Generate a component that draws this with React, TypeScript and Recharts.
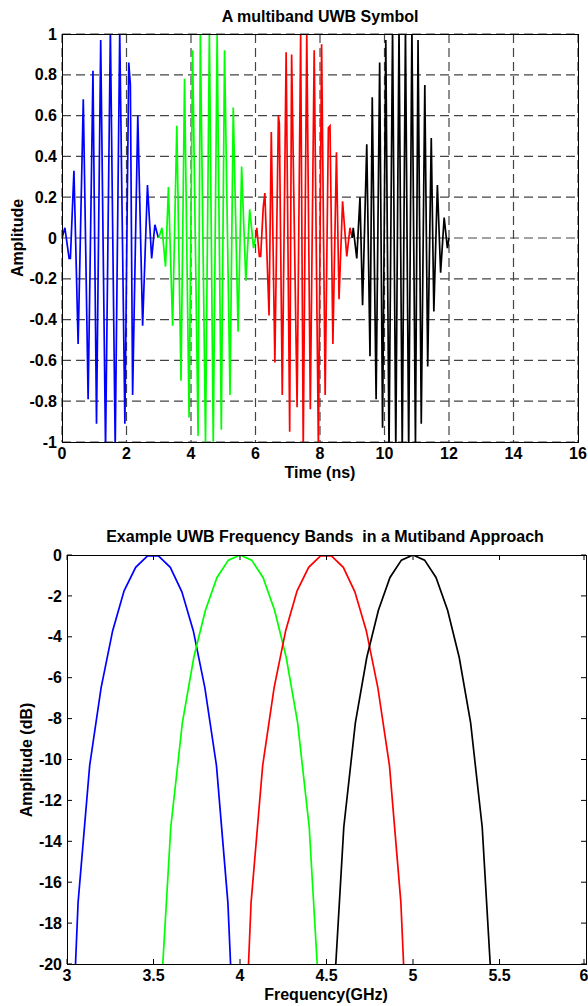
import { CartesianGrid, Line, LineChart, XAxis, YAxis } from "recharts";

// time axis (ns) and amplitude ticks
const timeTicks = [0, 2, 4, 6, 8, 10, 12, 14, 16];
const ampTicks = [-1, -0.8, -0.6, -0.4, -0.2, 0, 0.2, 0.4, 0.6, 0.8, 1];

// pulse 1 (blue)
const blueT = [0, 0.09, 0.22, 0.26, 0.37, 0.5, 0.66, 0.81, 0.96, 1.07, 1.2, 1.35, 1.5, 1.65, 1.79, 1.95, 2.07, 2.12, 2.19, 2.35, 2.5, 2.65, 2.78, 2.88, 2.99];
const blueV = [0, 0.05, -0.1, -0.1, 0.33, -0.52, 0.68, -0.79, 0.82, -0.91, 0.97, -1.03, 1.02, -1.03, 1.01, -0.91, 0.86, 0.75, -0.77, 0.6, -0.43, 0.26, -0.1, 0.065, 0];

// pulse 2 (green)
const greenT = [3.0, 3.1, 3.21, 3.3, 3.43, 3.56, 3.69, 3.8, 3.94, 4.05, 4.22, 4.29, 4.45, 4.57, 4.69, 4.81, 4.94, 5.04, 5.21, 5.31, 5.46, 5.57, 5.7, 5.82, 5.94, 6.0];
const greenV = [0, 0.05, -0.14, 0.25, -0.43, 0.55, -0.7, 0.78, -0.88, 0.92, -0.97, 1.0, -1.0, 1.01, -1.0, 1.0, -0.94, 0.92, -0.77, 0.64, -0.46, 0.35, -0.21, 0.14, -0.05, 0];

// pulse 3 (red)
const redT = [6.0, 6.04, 6.12, 6.16, 6.24, 6.29, 6.42, 6.49, 6.6, 6.71, 6.74, 6.83, 6.95, 7.06, 7.12, 7.29, 7.4, 7.48, 7.59, 7.7, 7.82, 7.95, 8.05, 8.16, 8.26, 8.31, 8.4, 8.51, 8.59, 8.7, 8.83, 8.93, 9.0];
const redV = [0, 0.05, -0.09, -0.09, 0.15, 0.22, -0.38, 0.52, -0.61, 0.6, 0.56, -0.77, 0.91, -0.95, 0.9, -0.83, 1.0, -1.03, 1.01, -0.84, 0.92, -1.03, 0.95, -0.77, 0.54, 0.55, -0.52, 0.42, -0.3, 0.18, -0.09, 0.05, 0];

// pulse 4 (black)
const blackT = [9.0, 9.03, 9.14, 9.24, 9.32, 9.45, 9.55, 9.62, 9.74, 9.85, 9.94, 10.04, 10.14, 10.25, 10.35, 10.45, 10.55, 10.65, 10.75, 10.85, 10.96, 11.04, 11.14, 11.25, 11.34, 11.45, 11.53, 11.64, 11.74, 11.85, 11.95, 12.0];
const blackV = [0, 0.05, -0.1, 0.2, -0.33, 0.46, -0.58, 0.69, -0.79, 0.86, -0.93, 0.97, -1.04, 1.03, -1.04, 1.03, -1.04, 1.03, -1.04, 1.03, -1.02, 0.97, -0.91, 0.75, -0.63, 0.49, -0.36, 0.26, -0.17, 0.1, -0.05, 0];

// spectra (GHz, dB)
const freqTicks = [3, 3.5, 4, 4.5, 5, 5.5, 6];
const dbTicks = [0, -2, -4, -6, -8, -10, -12, -14, -16, -18, -20];

const band1F = [3.0, 3.064, 3.131, 3.197, 3.264, 3.33, 3.397, 3.464, 3.53, 3.597, 3.664, 3.73, 3.797, 3.864, 3.93, 3.997];
const band1Db = [-30, -17, -10.3, -6.5, -3.7, -1.75, -0.6, -0.05, -0.05, -0.6, -1.8, -3.7, -6.5, -10.3, -17, -30];
const band2F = [3.533, 3.6, 3.667, 3.733, 3.8, 3.867, 3.933, 4.0, 4.067, 4.133, 4.2, 4.267, 4.333, 4.4, 4.467];
const band2Db = [-23, -13.3, -8.2, -5.0, -2.7, -1.1, -0.25, 0, -0.25, -1.1, -2.7, -5.0, -8.2, -13.3, -23];
const band3F = [4.0, 4.064, 4.131, 4.197, 4.264, 4.33, 4.397, 4.464, 4.53, 4.597, 4.664, 4.73, 4.797, 4.864, 4.93, 4.997];
const band3Db = [-30, -17, -10.3, -6.5, -3.7, -1.75, -0.6, -0.05, -0.05, -0.6, -1.8, -3.7, -6.5, -10.3, -17, -30];
const band4F = [4.533, 4.6, 4.667, 4.733, 4.8, 4.867, 4.933, 5.0, 5.067, 5.133, 5.2, 5.267, 5.333, 5.4, 5.467];
const band4Db = [-23, -13.3, -8.2, -5.0, -2.7, -1.1, -0.25, 0, -0.25, -1.1, -2.7, -5.0, -8.2, -13.3, -23];

const pts = (xs: number[], ys: number[]) => xs.map((x, i) => ({ x, y: ys[i] }));

const FONT = "'Liberation Sans', Arial, Helvetica, sans-serif";
const tickStyle = { fill: "#000", fontSize: 16, fontWeight: 700, fontFamily: FONT };

// bottom chart plot box (chart coords)
const B_LEFT = 67;
const B_RIGHT = 586;
const B_TOP = 55;
const B_BOTTOM = 464;

function FreqTick(props: any) {
  const { x, y, payload } = props;
  return (
    <g>
      <line x1={x} x2={x} y1={B_BOTTOM} y2={B_BOTTOM - 5} stroke="#000" />
      <line x1={x} x2={x} y1={B_TOP} y2={B_TOP + 5} stroke="#000" />
      <text x={x} y={y} dy="0.71em" textAnchor="middle" {...tickStyle}>
        {payload.value}
      </text>
    </g>
  );
}

function DbTick(props: any) {
  const { x, y, payload } = props;
  return (
    <g>
      <line x1={B_LEFT} x2={B_LEFT + 5} y1={y} y2={y} stroke="#000" />
      <line x1={B_RIGHT} x2={B_RIGHT - 5} y1={y} y2={y} stroke="#000" />
      <text x={x} y={y} dy="0.355em" textAnchor="end" {...tickStyle}>
        {payload.value}
      </text>
    </g>
  );
}

const label = (cx: number, cy: number, rotate = false): React.CSSProperties => ({
  position: "absolute",
  left: cx,
  top: cy,
  transform: `translate(-50%, -50%)${rotate ? " rotate(-90deg)" : ""}`,
  whiteSpace: "nowrap",
  fontFamily: FONT,
  fontWeight: 700,
  fontSize: 16,
  color: "#000",
});

const frame = (left: number, top: number, w: number, h: number): React.CSSProperties => ({
  position: "absolute",
  left,
  top,
  width: w,
  height: h,
  border: "1px solid #000",
  boxSizing: "border-box",
  pointerEvents: "none",
});

export default function App() {
  const lineProps = { dataKey: "y", dot: false, isAnimationActive: false, strokeWidth: 1.7 };
  return (
    <div style={{ position: "absolute", left: 0, top: 0, width: 588, height: 1006, background: "#fff", overflow: "hidden" }}>
      <div style={{ position: "absolute", left: 0, top: 0 }}>
        <LineChart width={588} height={490} margin={{ top: 34, right: 10, bottom: 0, left: 0 }}>
          <CartesianGrid stroke="#444" strokeWidth={1.2} strokeDasharray="9 5" />
          <XAxis type="number" dataKey="x" domain={[0, 16]} ticks={timeTicks} height={48} axisLine={false} tickLine={false} tickSize={4} tick={tickStyle} allowDataOverflow />
          <YAxis type="number" domain={[-1, 1]} ticks={ampTicks} width={62} axisLine={false} tickLine={false} tickSize={0} tickMargin={5} tick={tickStyle} allowDataOverflow />
          <Line data={pts(blueT, blueV)} stroke="#0000ff" {...lineProps} />
          <Line data={pts(greenT, greenV)} stroke="#00ff00" {...lineProps} />
          <Line data={pts(redT, redV)} stroke="#ff0000" {...lineProps} />
          <Line data={pts(blackT, blackV)} stroke="#000000" {...lineProps} />
        </LineChart>
      </div>
      <div style={frame(62, 34, 517, 409)} />
      <div style={label(320, 17)}>A multiband UWB Symbol</div>
      <div style={label(320, 473)}>Time (ns)</div>
      <div style={label(18, 238, true)}>Amplitude</div>

      <div style={{ position: "absolute", left: 0, top: 500 }}>
        <LineChart width={588} height={506} margin={{ top: B_TOP, right: 588 - B_RIGHT, bottom: 0, left: 0 }}>
          <XAxis type="number" dataKey="x" domain={[3, 6]} ticks={freqTicks} height={42} axisLine={false} tickLine={false} tickSize={4} tick={<FreqTick />} allowDataOverflow />
          <YAxis type="number" domain={[-20, 0]} ticks={dbTicks} width={B_LEFT} axisLine={false} tickLine={false} tickSize={0} tickMargin={5} tick={<DbTick />} allowDataOverflow />
          <Line data={pts(band1F, band1Db)} stroke="#0000ff" {...lineProps} />
          <Line data={pts(band2F, band2Db)} stroke="#00ff00" {...lineProps} />
          <Line data={pts(band3F, band3Db)} stroke="#ff0000" {...lineProps} />
          <Line data={pts(band4F, band4Db)} stroke="#000000" {...lineProps} />
        </LineChart>
      </div>
      <div style={frame(B_LEFT, 500 + B_TOP, B_RIGHT - B_LEFT + 1, B_BOTTOM - B_TOP + 1)} />
      <div style={label(325, 537)}>Example UWB Frequency Bands&nbsp; in a Mutiband Approach</div>
      <div style={label(326, 995)}>Frequency(GHz)</div>
      <div style={label(27, 760, true)}>Amplitude (dB)</div>
    </div>
  );
}
